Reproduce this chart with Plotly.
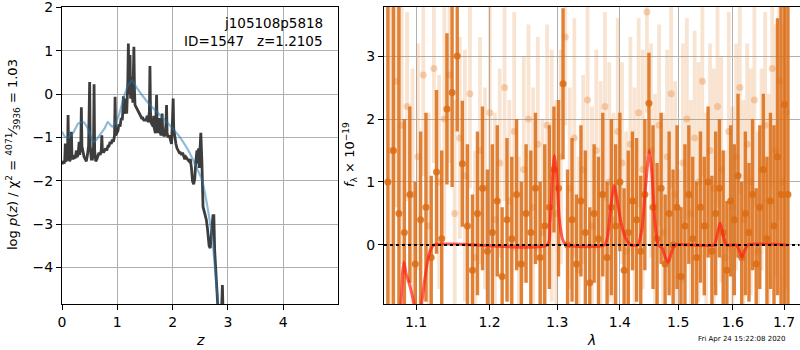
import plotly.graph_objects as go
import math

# ---------------- left panel: redshift probability ----------------
z_grid = [0.00, 0.02, 0.04, 0.05, 0.06, 0.07, 0.09, 0.10, 0.11, 0.12, 0.14, 0.16, 0.17, 0.18, 0.20,
          0.22, 0.24, 0.26, 0.27, 0.29, 0.31, 0.32, 0.34, 0.35, 0.36, 0.38, 0.40, 0.42, 0.44, 0.46,
          0.48, 0.50, 0.51, 0.53, 0.55, 0.57, 0.58, 0.59, 0.61, 0.63, 0.65, 0.67, 0.69, 0.71, 0.72,
          0.73, 0.75, 0.77, 0.79, 0.81, 0.83, 0.85, 0.87, 0.89, 0.91, 0.93, 0.95, 0.96, 0.97, 0.99,
          1.01, 1.03, 1.05, 1.07, 1.09, 1.10, 1.11, 1.12, 1.14, 1.16, 1.17, 1.19, 1.20, 1.21, 1.22,
          1.23, 1.24, 1.26, 1.27, 1.28, 1.30, 1.31, 1.32, 1.34, 1.36, 1.38, 1.40, 1.42, 1.44, 1.46,
          1.48, 1.50, 1.52, 1.54, 1.56, 1.58, 1.59, 1.60, 1.61, 1.63, 1.65, 1.66, 1.67, 1.69, 1.70,
          1.71, 1.72, 1.74, 1.76, 1.77, 1.79, 1.81, 1.82, 1.84, 1.86, 1.88, 1.89, 1.90, 1.92, 1.94,
          1.96, 1.98, 2.00, 2.01, 2.02, 2.04, 2.06, 2.08, 2.10, 2.12, 2.14, 2.16, 2.18, 2.20, 2.22,
          2.24, 2.26, 2.28, 2.30, 2.32, 2.34, 2.36, 2.38, 2.40, 2.42, 2.44, 2.45, 2.47, 2.48, 2.51,
          2.53, 2.54, 2.55, 2.57, 2.59, 2.61, 2.63, 2.66, 2.68, 2.70, 2.72, 2.73, 2.745, 2.76, 2.80,
          2.83, 2.88, 2.90, 2.92]
logp = [-1.62, -1.55, -1.60, -1.50, -1.14, -1.55, -1.50, -1.45, -0.48, -1.40, -1.55, -1.45, -0.87, -1.45, -1.50,
        -1.45, -1.48, -1.30, -1.45, -1.40, -1.10, -1.40, -1.20, -0.30, -1.20, -1.35, -1.45, -1.50, -1.55, -1.40,
        -1.20, 0.28, -1.20, -1.50, -1.50, -1.20, 0.23, -1.30, -1.55, -1.50, -1.40, -1.35, -1.40, -1.30, -0.95,
        -1.30, -1.35, -1.30, -1.25, -1.30, -1.20, -1.20, -1.10, -1.15, -1.05, -1.10, -0.95, -0.06, -0.95, -0.90,
        -0.85, -0.70, -0.75, -0.55, -0.60, -0.40, -0.05, -0.45, -0.35, -0.10, -0.45, 0.30, 1.17, 0.20, 0.00,
        0.90, -0.10, -0.05, 0.40, -0.20, 1.09, 0.10, -0.25, -0.30, -0.35, -0.40, -0.45, -0.50, -0.55, -0.55,
        -0.60, -0.60, -0.60, -0.50, -0.65, -0.40, 0.65, -0.40, -0.65, -0.70, -0.75, -0.50, -0.80, -0.90, -0.45,
        -0.02, -0.70, -0.90, -0.55, -0.85, -0.95, -0.45, -0.85, -0.95, -0.95, -0.70, -0.25, -0.90, -1.00, -0.95,
        -1.05, -1.15, -0.50, -0.10, -0.80, -1.05, -1.15, -1.25, -1.30, -1.35, -1.35, -1.40, -1.35, -1.45, -1.50,
        -1.45, -1.50, -1.52, -1.55, -1.50, -1.70, -2.00, -2.08, -1.95, -1.55, -1.30, -1.60, -1.25, -1.70, -0.89,
        -1.60, -2.30, -2.60, -2.70, -2.80, -2.90, -3.10, -3.50, -3.55, -3.30, -3.00, -2.80, -2.80, -3.60, -4.50,
        -5.20, -5.20, -4.40, -5.50]
z_smooth = [0.00, 0.05, 0.11, 0.20, 0.29, 0.38, 0.45, 0.55, 0.59, 0.68, 0.77, 0.83, 0.88, 0.92, 1.02,
            1.12, 1.20, 1.27, 1.35, 1.47, 1.59, 1.77, 1.95, 2.13, 2.28, 2.37, 2.53, 2.65, 2.73, 2.82, 2.86]
logp_smooth = [-0.87, -0.98, -1.00, -0.90, -0.68, -0.64, -0.75, -1.06, -1.10, -0.95, -0.79, -0.64, -0.72, -0.75, -0.52,
               -0.06, 0.21, 0.32, 0.15, -0.06, -0.25, -0.48, -0.72, -0.99, -1.29, -1.52, -1.98, -2.75, -3.50, -4.80, -5.30]

# ---------------- right panel: spectrum ----------------
lam_dark = [1.064, 1.071, 1.078, 1.085, 1.092, 1.099, 1.106, 1.113, 1.120, 1.127,
            1.134, 1.141, 1.148, 1.155, 1.162, 1.169, 1.176, 1.183, 1.190, 1.197,
            1.204, 1.211, 1.218, 1.225, 1.232, 1.239, 1.246, 1.253, 1.260, 1.267,
            1.274, 1.281, 1.288, 1.295, 1.302, 1.309, 1.316, 1.323, 1.330, 1.337,
            1.344, 1.351, 1.358, 1.365, 1.372, 1.379, 1.386, 1.393, 1.400, 1.407,
            1.414, 1.421, 1.428, 1.435, 1.442, 1.449, 1.456, 1.463, 1.470, 1.477,
            1.484, 1.491, 1.498, 1.505, 1.512, 1.519, 1.526, 1.533, 1.540, 1.547,
            1.554, 1.561, 1.568, 1.575, 1.582, 1.589, 1.596, 1.603, 1.610, 1.617,
            1.624, 1.631, 1.638, 1.645, 1.652, 1.659, 1.666, 1.673, 1.680, 1.687,
            1.694, 1.701, 1.708]
flux_dark = [1.0, 1.5, 0.5, 0.2, 0.8, -0.3, 0.4, 0.6, -0.2, 1.16,
             0.1, 2.16, 2.42, 3.0, 1.29, 0.3, -0.4, 0.5, 0.9, -0.1,
             0.2, 0.7, -0.5, 0.4, 0.1, 0.8, -0.3, 0.5, 0.2, 0.9,
             -0.2, 0.3, 0.6, 1.2, 0.9, 2.56, 0.0, 0.4, -0.3, 0.7,
             0.2, -0.6, 0.5, 0.1, 0.8, -0.2, 0.6, 0.3, 1.0, -0.4,
             0.2, 0.7, 0.4, -0.1, 0.8, 2.25, 0.6, 0.1, 0.9, -0.3,
             0.5, 0.0, 0.6, -0.5, 0.3, 0.8, 0.1, -0.2, 0.6, 0.3,
             1.0, -0.1, 0.5, 0.9, 0.2, -0.4, 0.7, 0.4, 1.1, -0.2,
             0.5, 0.2, 0.8, -0.3, 0.6, 1.2, 0.1, 0.7, 0.3, 1.4,
             0.8, 2.23, 0.8]
err_dark = [5.0, 5.0, 4.5, 1.8, 1.4, 1.3, 1.4, 1.5, 1.3, 1.3,
            1.4, 1.2, 1.5, 1.2, 1.0, 1.3, 1.2, 1.3, 1.3, 1.3,
            1.4, 1.2, 1.1, 1.3, 1.3, 1.2, 1.3, 1.1, 1.3, 1.2,
            1.2, 1.3, 1.3, 1.0, 1.4, 1.2, 1.2, 1.3, 1.1, 1.2,
            1.3, 1.2, 1.1, 1.3, 1.3, 1.2, 1.4, 1.3, 1.1, 1.3,
            1.3, 1.1, 1.3, 1.2, 1.2, 0.8, 1.3, 1.2, 1.2, 1.1,
            1.3, 1.2, 1.3, 1.1, 1.3, 1.1, 1.3, 1.2, 1.2, 1.1,
            1.2, 1.2, 1.3, 1.1, 1.3, 1.1, 1.2, 1.2, 1.3, 1.2,
            1.3, 1.1, 1.2, 1.2, 1.3, 1.2, 1.3, 1.4, 1.6, 2.2,
            3.0, 4.0, 4.5]
lam_light = [1.0675, 1.0745, 1.0815, 1.0885, 1.0955, 1.1025, 1.1095, 1.1165, 1.1235, 1.1305,
             1.1375, 1.1445, 1.1515, 1.1585, 1.1655, 1.1725, 1.1795, 1.1865, 1.1935, 1.2005,
             1.2075, 1.2145, 1.2215, 1.2285, 1.2355, 1.2425, 1.2495, 1.2565, 1.2635, 1.2705,
             1.2775, 1.2845, 1.2915, 1.2985, 1.3055, 1.3125, 1.3195, 1.3265, 1.3335, 1.3405,
             1.3475, 1.3545, 1.3615, 1.3685, 1.3755, 1.3825, 1.3895, 1.3965, 1.4035, 1.4105,
             1.4175, 1.4245, 1.4315, 1.4385, 1.4455, 1.4525, 1.4595, 1.4665, 1.4735, 1.4805,
             1.4875, 1.4945, 1.5015, 1.5085, 1.5155, 1.5225, 1.5295, 1.5365, 1.5435, 1.5505,
             1.5575, 1.5645, 1.5715, 1.5785, 1.5855, 1.5925, 1.5995, 1.6065, 1.6135, 1.6205,
             1.6275, 1.6345, 1.6415, 1.6485, 1.6555, 1.6625, 1.6695, 1.6765, 1.6835, 1.6905,
             1.6975, 1.7045]
flux_light = [1.5, 2.6, 1.9, 2.2, 0.8, 1.4, 2.7, 0.3, 2.8, 1.0,
              2.0, 2.7, 0.5, 1.7, 1.1, 2.4, -0.2, 1.5, 0.9, 2.1,
              0.4, 1.3, 2.5, 0.7, 1.8, -0.3, 1.2, 2.0, 0.6, 1.6,
              0.2, 1.9, 1.1, 0.5, 1.4, 3.3, 0.9, 1.7, -0.4, 1.2,
              2.3, 0.3, 1.5, 0.8, 2.2, 1.0, 0.4, 1.8, 1.3, -0.1,
              1.6, 0.7, 2.1, 1.2, 3.7, 1.5, 0.6, 1.9, 0.2, 1.4,
              2.4, 0.8, -0.5, 1.3, 2.0, 0.5, 1.7, 1.0, 2.6, 0.3,
              1.5, 0.9, 2.2, 1.2, -0.2, 1.8, 0.6, 1.4, 2.5, 0.4,
              1.6, 1.0, 2.3, -0.1, 1.2, 1.9, 0.7, 2.8, 1.5, 2.6,
              1.0, 2.1]
err_light = [2.5, 2.0, 2.2, 1.5, 2.0, 1.8, 1.6, 1.8, 1.5, 1.7,
             1.9, 1.4, 1.8, 1.6, 2.0, 1.5, 1.7, 1.8, 1.6, 1.9,
             1.7, 1.5, 1.8, 1.6, 1.9, 1.7, 1.8, 1.5, 1.9, 1.7,
             1.8, 1.6, 2.0, 1.8, 1.7, 1.4, 1.6, 1.9, 1.8, 1.5,
             1.7, 1.9, 1.6, 1.8, 1.5, 1.9, 1.7, 1.8, 1.6, 1.9,
             1.7, 1.8, 1.5, 1.9, 1.6, 1.7, 1.8, 1.6, 1.9, 1.7,
             1.5, 1.8, 1.7, 1.9, 1.6, 1.8, 1.7, 1.9, 1.5, 1.8,
             1.7, 1.9, 1.6, 1.8, 1.7, 1.9, 1.6, 1.8, 1.7, 1.9,
             1.6, 1.8, 1.7, 1.9, 1.6, 1.8, 1.7, 1.9, 2.0, 2.2,
             2.5, 2.8]
lam_model = [1.070, 1.075, 1.0805, 1.0825, 1.0845, 1.087, 1.091, 1.0976, 1.102, 1.1072,
             1.112, 1.117, 1.1233, 1.285, 1.289, 1.2925, 1.2956, 1.299, 1.303, 1.308,
             1.314, 1.375, 1.380, 1.385, 1.3904, 1.395, 1.402, 1.410, 1.418, 1.430,
             1.437, 1.443, 1.4496, 1.454, 1.459, 1.465, 1.472, 1.4775, 1.4827, 1.488,
             1.494, 1.565, 1.5705, 1.5763, 1.582, 1.588, 1.607, 1.612, 1.6175, 1.623,
             1.629, 1.705]
flux_model = [-2.2, -1.4, -0.95, -0.45, -0.27, -0.45, -0.6, -0.95, -1.5, -0.95,
              -0.5, -0.15, 0.0, 0.0, 0.35, 1.0, 1.42, 1.15, 0.45, 0.1,
              0.0, 0.0, 0.15, 0.6, 0.95, 0.75, 0.35, 0.1, 0.0, 0.0,
              0.25, 0.9, 1.5, 1.15, 0.4, 0.0, -0.05, -0.2, -0.27, -0.12,
              0.0, 0.0, 0.15, 0.35, 0.15, 0.0, 0.0, -0.08, -0.19, -0.08,
              0.0, 0.0]

xtick_vals = [1.1, 1.2, 1.3, 1.4, 1.5, 1.6, 1.7]
xtick_text = ["1.1", "1.2", "1.3", "1.4", "1.5", "1.6", "1.7"]

FONT = "DejaVu Sans"
DARK = "rgba(218,108,20,0.85)"
LIGHT = "rgba(228,130,50,0.22)"
LIGHT_MK = "rgba(228,130,50,0.34)"

W, H = 800, 350
def px_x(p):
    return p / W
def px_y(p):
    return 1 - p / H

fig = go.Figure()

# left panel
fig.add_trace(go.Scatter(x=z_grid, y=logp, mode="lines", xaxis="x", yaxis="y",
                         line=dict(color="rgba(45,45,45,0.92)", width=2.8), showlegend=False))
fig.add_trace(go.Scatter(x=z_smooth, y=logp_smooth, mode="lines", xaxis="x", yaxis="y",
                         line=dict(color="rgba(31,119,180,0.5)", width=2.2, shape="spline", smoothing=0.4),
                         showlegend=False))

# right panel
fig.add_trace(go.Scatter(x=lam_light, y=flux_light, mode="markers", xaxis="x2", yaxis="y2",
                         marker=dict(color=LIGHT_MK, size=7, line=dict(width=0)),
                         error_y=dict(type="data", array=err_light, color=LIGHT, thickness=3.8, width=0),
                         showlegend=False))
fig.add_trace(go.Scatter(x=lam_dark, y=flux_dark, mode="markers", xaxis="x2", yaxis="y2",
                         marker=dict(color=DARK, size=7, line=dict(width=0)),
                         error_y=dict(type="data", array=err_dark, color=DARK, thickness=3.4, width=0),
                         showlegend=False))
fig.add_trace(go.Scatter(x=lam_model, y=flux_model, mode="lines", xaxis="x2", yaxis="y2",
                         line=dict(color="rgba(255,30,20,0.7)", width=3, shape="spline", smoothing=0.6),
                         showlegend=False))

ydom = [px_y(304), px_y(7)]
axis_common = dict(showline=True, linecolor="black", linewidth=1, mirror=True,
                   ticks="outside", ticklen=5, tickcolor="black", tickwidth=1,
                   showgrid=True, gridcolor="#b0b0b0", gridwidth=1, zeroline=False,
                   automargin=False, ticklabeloverflow="allow",
                   tickfont=dict(family=FONT, size=14, color="black"))

x2_lo = math.log10(1.1) - 32 / 1946.5
x2_hi = math.log10(1.7) + 15.5 / 1946.5

fig.update_layout(
    width=W, height=H, margin=dict(l=0, r=0, t=0, b=0, autoexpand=False),
    paper_bgcolor="white", plot_bgcolor="white",
    font=dict(family=FONT, color="black"),
    xaxis=dict(domain=[px_x(62), px_x(338)], range=[0, 4.99], anchor="y",
               tickvals=[0, 1, 2, 3, 4], **axis_common),
    yaxis=dict(domain=ydom, range=[-4.84, 2.01], anchor="x",
               tickvals=[-4, -3, -2, -1, 0, 1, 2], **axis_common),
    xaxis2=dict(domain=[px_x(384), px_x(799.5)], type="log", range=[x2_lo, x2_hi], anchor="y2",
                tickvals=xtick_vals, ticktext=xtick_text, **axis_common),
    yaxis2=dict(domain=ydom, range=[-0.937, 3.778], anchor="x2",
                tickvals=[0, 1, 2, 3], **axis_common),
)

fig.add_shape(type="line", xref="x2 domain", yref="y2", x0=0, x1=1, y0=0, y1=0,
              line=dict(color="black", width=2, dash="dot"))

ann = [
    dict(x=px_x(325), y=px_y(13), text="j105108p5818", xanchor="right", yanchor="top", size=13.5),
    dict(x=px_x(325), y=px_y(31), text="ID=1547   z=1.2105", xanchor="right", yanchor="top", size=13.5),
    dict(x=px_x(200), y=px_y(340), text="<i>z</i>", xanchor="center", yanchor="middle", size=14),
    dict(x=px_x(591), y=px_y(340), text="<i>λ</i>", xanchor="center", yanchor="middle", size=14),
    dict(x=px_x(788), y=px_y(339), text="Fri Apr 24 15:22:08 2020", xanchor="right", yanchor="middle", size=7),
]
for a in ann:
    fig.add_annotation(x=a["x"], y=a["y"], xref="paper", yref="paper", text=a["text"], showarrow=False,
                       xanchor=a["xanchor"], yanchor=a["yanchor"],
                       font=dict(family=FONT, size=a["size"], color="black"))

fig.add_annotation(x=px_x(13), y=px_y(155), xref="paper", yref="paper", textangle=-90, showarrow=False,
                   text="log <i>p</i>(<i>z</i>) / χ<sup>2</sup> = <sup>4071</sup>⁄<sub>3936</sub> = 1.03",
                   xanchor="center", yanchor="middle", font=dict(family=FONT, size=13, color="black"))
fig.add_annotation(x=px_x(350), y=px_y(155), xref="paper", yref="paper", textangle=-90, showarrow=False,
                   text="<i>f</i><sub>λ</sub> × 10<sup>−19</sup>",
                   xanchor="center", yanchor="middle", font=dict(family=FONT, size=13, color="black"))

fig.write_html("out.html", config={"displayModeBar": False},
               post_script="document.body.style.margin='0';document.body.style.overflow='hidden';")
